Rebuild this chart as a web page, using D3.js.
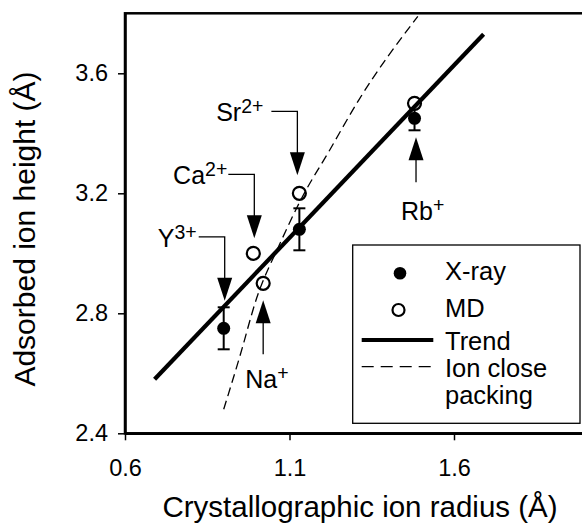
<!DOCTYPE html>
<html>
<head>
<meta charset="utf-8">
<script src="https://cdn.jsdelivr.net/npm/d3@7"></script>
<style>
  html, body { margin: 0; padding: 0; background: #fff; }
  svg { display: block; }
  text { font-family: "Liberation Sans", Arial, Helvetica, sans-serif; fill: #000; }
</style>
</head>
<body>
<svg id="chart" width="582" height="527"></svg>
<script>
// Ions, ordered by crystallographic radius (Å)
const ionSymbols = ["Y", "Ca", "Na", "Sr", "Rb"];
const ionCharges = ["3+", "2+", "+", "2+", "+"];
const ionRadius  = [0.90, 0.99, 1.02, 1.13, 1.48];

// X-ray adsorption heights (Å) with error bars; null where not measured
const xrayHeight = [2.75, null, null, 3.08, 3.45];
const xrayError  = [0.07, null, null, 0.07, 0.04];

// MD adsorption heights (Å); null where not simulated
const mdHeight = [null, 3.00, 2.90, 3.20, 3.50];

// Linear trend endpoints
const trendRadius = [0.69, 1.69];
const trendHeight = [2.58, 3.73];

// Ion close-packing curve
const packRadius = [0.90, 0.95, 1.00, 1.07, 1.14, 1.22, 1.31, 1.49];
const packHeight = [2.48, 2.66, 2.85, 3.03, 3.19, 3.34, 3.51, 3.79];

// Axes
const xTicks = [0.6, 1.1, 1.6];
const yTicks = [2.4, 2.8, 3.2, 3.6];
const xTitle = "Crystallographic ion radius (Å)";
const yTitle = "Adsorbed ion height (Å)";
const legendLabels = ["X-ray", "MD", "Trend", ["Ion close", "packing"]];

const svg = d3.select("#chart");
svg.append("rect").attr("width", 582).attr("height", 527).attr("fill", "#fff");

const x = d3.scaleLinear().domain([0.6, 2.0]).range([125, 585.6]);
const y = d3.scaleLinear().domain([2.4, 3.8]).range([433.3, 13.3]);

// ---- plot frame ----
svg.append("rect")
  .attr("x", x(0.6)).attr("y", y(3.8))
  .attr("width", x(2.0) - x(0.6)).attr("height", y(2.4) - y(3.8))
  .attr("fill", "none").attr("stroke", "#000").attr("stroke-width", 2.5);

// ---- axes ----
const fmt = d3.format(".1f");
const xAxis = svg.append("g")
  .attr("transform", `translate(0,${y(2.4)})`)
  .call(d3.axisBottom(x).tickValues(xTicks).tickSize(7).tickSizeOuter(0)
        .tickPadding(19).tickFormat(fmt));
const yAxis = svg.append("g")
  .attr("transform", `translate(${x(0.6)},0)`)
  .call(d3.axisLeft(y).tickValues(yTicks).tickSize(7).tickSizeOuter(0)
        .tickPadding(10).tickFormat(fmt));
[xAxis, yAxis].forEach(g => {
  g.select(".domain").attr("stroke", "#000").attr("stroke-width", 2.5);
  g.selectAll(".tick line").attr("stroke", "#000").attr("stroke-width", 1.5);
  g.selectAll(".tick text").attr("font-size", 23.5)
    .attr("font-family", "Liberation Sans, Arial, sans-serif").attr("fill", "#000");
});

svg.append("text")
  .attr("x", 360).attr("y", 517).attr("text-anchor", "middle")
  .attr("font-size", 29.5).text(xTitle);
svg.append("text")
  .attr("transform", "translate(35,229) rotate(-90)")
  .attr("text-anchor", "middle").attr("font-size", 30).text(yTitle);

// ---- data marks ----
const idx = d3.range(ionSymbols.length);
const xrayIdx = idx.filter(i => xrayHeight[i] != null);
const mdIdx = idx.filter(i => mdHeight[i] != null);

// error bars
const eb = svg.append("g").attr("stroke", "#000").attr("stroke-width", 2);
xrayIdx.forEach(i => {
  const cx = x(ionRadius[i]);
  const y0 = y(xrayHeight[i] - xrayError[i]);
  const y1 = y(xrayHeight[i] + xrayError[i]);
  eb.append("line").attr("x1", cx).attr("x2", cx).attr("y1", y0).attr("y2", y1);
  eb.append("line").attr("x1", cx - 6).attr("x2", cx + 6).attr("y1", y0).attr("y2", y0);
  eb.append("line").attr("x1", cx - 6).attr("x2", cx + 6).attr("y1", y1).attr("y2", y1);
});

svg.append("g").selectAll("circle").data(xrayIdx).join("circle")
  .attr("cx", i => x(ionRadius[i])).attr("cy", i => y(xrayHeight[i]))
  .attr("r", 6.5).attr("fill", "#000");

svg.append("g").selectAll("circle").data(mdIdx).join("circle")
  .attr("cx", i => x(ionRadius[i])).attr("cy", i => y(mdHeight[i]))
  .attr("r", 6.5).attr("fill", "#fff").attr("stroke", "#000").attr("stroke-width", 2.2);

// trend line
svg.append("line")
  .attr("x1", x(trendRadius[0])).attr("y1", y(trendHeight[0]))
  .attr("x2", x(trendRadius[1])).attr("y2", y(trendHeight[1]))
  .attr("stroke", "#000").attr("stroke-width", 4.2);

// close-packing curve
svg.append("path")
  .datum(d3.zip(packRadius, packHeight))
  .attr("d", d3.line().x(d => x(d[0])).y(d => y(d[1])).curve(d3.curveMonotoneX))
  .attr("fill", "none").attr("stroke", "#000").attr("stroke-width", 1.3)
  .attr("stroke-dasharray", "9,5");

// ---- ion annotations (arrow + label) ----
// "down" arrows come from a label above-left via an elbow; "up" arrows hang a label below
const annLayout = {
  Y:  { dir: "down", ref: "xrayTop", gap: 6.5, dx: 1, textGap: 2 },
  Ca: { dir: "down", ref: "md", gap: 15, dx: 1, textGap: 1 },
  Sr: { dir: "down", ref: "md", gap: 18, dx: -2, textGap: 8 },
  Na: { dir: "up", ref: "md", gap: 17, dx: 0, shaft: 54, labelDy: 88, labelDx: -18 },
  Rb: { dir: "up", ref: "xrayBottom", gap: 7, dx: 1.5, shaft: 45, labelDy: 83, labelDx: -15 }
};
const ann = svg.append("g");
idx.forEach(i => {
  const L = annLayout[ionSymbols[i]];
  const ax = x(ionRadius[i]) + L.dx;
  let refY;
  if (L.ref === "md") refY = y(mdHeight[i]);
  else if (L.ref === "xrayTop") refY = y(xrayHeight[i] + xrayError[i]);
  else refY = y(xrayHeight[i] - xrayError[i]);
  const triH = 23, triW = 7.5;
  if (L.dir === "down") {
    const tip = refY - L.gap;
    const elbowY = tip - 64;
    const elbowX = ax - 26;
    ann.append("polygon")
      .attr("points", `${ax},${tip} ${ax - triW},${tip - triH} ${ax + triW},${tip - triH}`)
      .attr("fill", "#000");
    ann.append("polyline")
      .attr("points", `${elbowX},${elbowY} ${ax},${elbowY} ${ax},${tip - triH + 1}`)
      .attr("fill", "none").attr("stroke", "#000").attr("stroke-width", 1.3);
    const t = ann.append("text").attr("x", elbowX - L.textGap).attr("y", elbowY + 10)
      .attr("text-anchor", "end").attr("font-size", 25);
    t.append("tspan").text(ionSymbols[i]);
    t.append("tspan").attr("dy", -8).attr("font-size", 19.5).text(ionCharges[i]);
  } else {
    const tip = refY + L.gap;
    ann.append("polygon")
      .attr("points", `${ax},${tip} ${ax - triW},${tip + triH} ${ax + triW},${tip + triH}`)
      .attr("fill", "#000");
    ann.append("line")
      .attr("x1", ax).attr("x2", ax).attr("y1", tip + triH - 1).attr("y2", tip + L.shaft)
      .attr("stroke", "#000").attr("stroke-width", 1.3);
    const t = ann.append("text").attr("x", ax + L.labelDx).attr("y", tip + L.labelDy)
      .attr("font-size", 25);
    t.append("tspan").text(ionSymbols[i]);
    t.append("tspan").attr("dy", -8).attr("font-size", 19.5).text(ionCharges[i]);
  }
});

// ---- legend ----
const lg = svg.append("g");
lg.append("rect").attr("x", 352.7).attr("y", 245).attr("width", 227.3).attr("height", 178.3)
  .attr("fill", "#fff").attr("stroke", "#000").attr("stroke-width", 1.3);
lg.append("circle").attr("cx", 400).attr("cy", 273.3).attr("r", 6.3).attr("fill", "#000");
lg.append("circle").attr("cx", 398.5).attr("cy", 310).attr("r", 6)
  .attr("fill", "#fff").attr("stroke", "#000").attr("stroke-width", 2.2);
lg.append("line").attr("x1", 361.7).attr("x2", 433.3).attr("y1", 340).attr("y2", 340)
  .attr("stroke", "#000").attr("stroke-width", 4.2);
lg.append("line").attr("x1", 361.7).attr("x2", 433.3).attr("y1", 366.7).attr("y2", 366.7)
  .attr("stroke", "#000").attr("stroke-width", 1.3).attr("stroke-dasharray", "12,7");
const legendBaselines = [280, 316.5, 350, [376.7, 403.5]];
legendLabels.forEach((lab, k) => {
  const lines = Array.isArray(lab) ? lab : [lab];
  const ys = Array.isArray(lab) ? legendBaselines[k] : [legendBaselines[k]];
  lines.forEach((s, j) => {
    lg.append("text").attr("x", 445).attr("y", ys[j]).attr("font-size", 25.5).text(s);
  });
});
</script>
</body>
</html>
